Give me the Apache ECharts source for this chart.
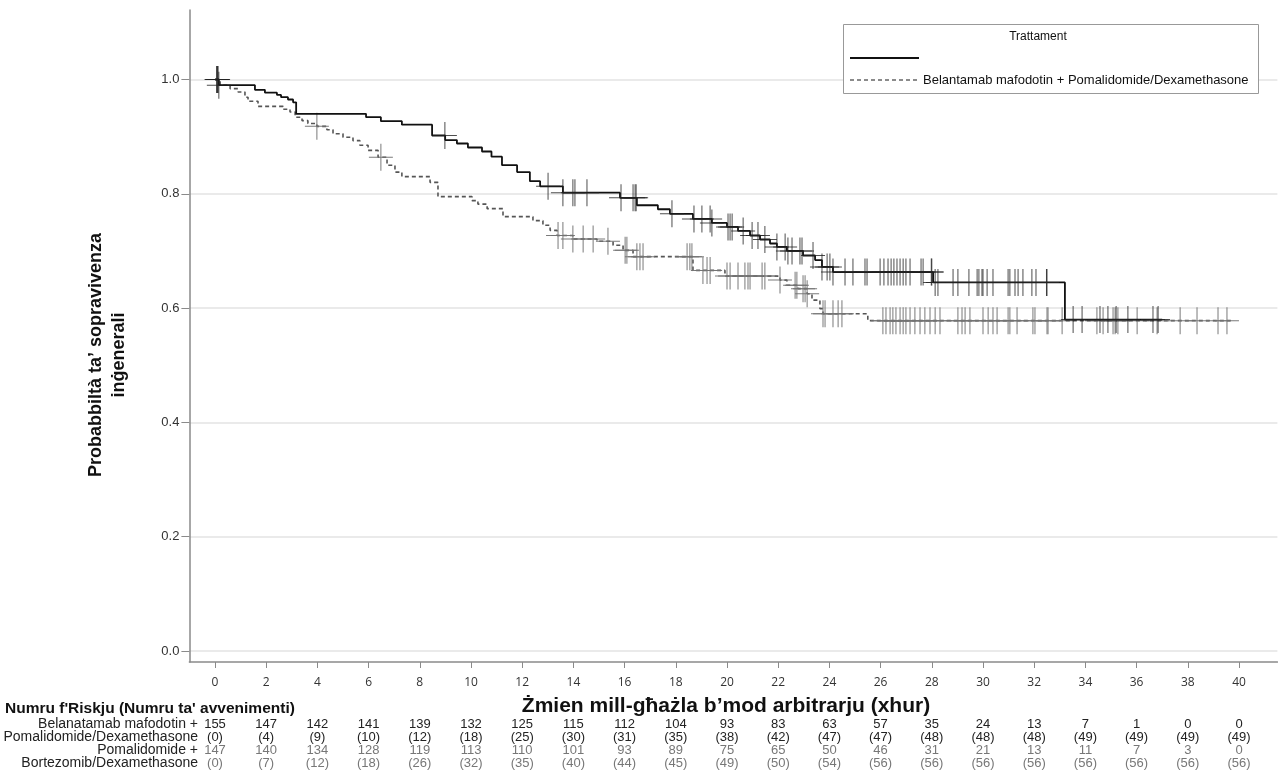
<!DOCTYPE html>
<html><head><meta charset="utf-8">
<script src="https://cdn.jsdelivr.net/npm/echarts@6/dist/echarts.min.js"></script>
<style>html,body{margin:0;padding:0;background:#fff}#c{width:1278px;height:781px}</style>
</head><body><div id="c"></div><script>
// ---- data ----
const xTicks = [0,2,4,6,8,10,12,14,16,18,20,22,24,26,28,30,32,34,36,38,40];
const yTicks = [0,0.2,0.4,0.6,0.8,1.0];

// Solid curve (step-change times and survival from that time)
const bpdTimes = [0,0.15,1.56,1.95,2.42,2.58,2.85,3.05,3.17,5.90,6.48,7.30,8.48,8.99,9.45,9.88,10.43,10.80,11.21,11.80,12.30,12.70,13.59,15.82,16.48,17.30,17.77,18.67,19.41,20.00,20.43,20.90,21.29,21.68,21.95,22.34,22.97,23.44,23.71,24.14,28.05,33.20];
const bpdSurv  = [1.0,0.990,0.982,0.977,0.973,0.969,0.965,0.960,0.940,0.934,0.927,0.921,0.902,0.894,0.888,0.881,0.874,0.865,0.850,0.838,0.822,0.813,0.802,0.793,0.780,0.773,0.765,0.756,0.749,0.742,0.735,0.727,0.720,0.713,0.707,0.700,0.692,0.684,0.672,0.663,0.645,0.580];
const bpdEnd = 37.0;

// Dashed curve
const pvdTimes = [0,0.20,0.59,0.90,1.17,1.29,1.68,2.66,2.93,3.13,3.40,3.63,3.98,4.37,4.61,5.00,5.39,5.66,5.98,6.37,6.72,7.03,7.30,8.40,8.71,10.04,10.27,10.63,11.25,12.42,12.81,13.09,13.36,13.98,14.92,15.55,15.94,16.33,18.67,19.92,22.07,22.34,22.77,23.13,23.32,23.63,23.75,25.50];
const pvdSurv  = [1.0,0.990,0.984,0.978,0.969,0.962,0.953,0.948,0.943,0.934,0.928,0.923,0.918,0.912,0.905,0.899,0.893,0.885,0.876,0.864,0.850,0.838,0.830,0.820,0.795,0.788,0.782,0.774,0.760,0.753,0.745,0.736,0.727,0.721,0.717,0.710,0.701,0.690,0.666,0.656,0.649,0.640,0.634,0.625,0.614,0.599,0.590,0.578];
const pvdEnd = 39.8;

// Censoring times
const bpdCensor = [0.06,0.09,0.12,0.15,8.98,13.01,13.59,13.98,14.06,14.53,15.86,16.33,16.41,16.45,17.85,18.71,19.02,19.34,19.41,20.04,20.12,20.2,20.63,20.98,21.21,21.48,21.95,22.27,22.38,22.54,22.85,22.93,23.36,23.71,23.91,24.02,24.14,24.61,24.92,25.39,25.47,25.98,26.13,26.29,26.41,26.52,26.64,26.76,26.88,26.99,27.15,27.58,27.66,27.98,28.0,28.13,28.24,28.83,29.02,29.45,29.77,29.84,29.96,30.0,30.16,30.39,30.98,31.05,31.25,31.37,31.56,31.91,32.07,32.48,32.5,33.52,33.87,34.57,34.88,35.2,35.66,36.64,36.84];
const pvdCensor = [0.1,3.98,6.48,13.4,13.59,13.98,14.38,14.77,15.35,16.02,16.09,16.48,16.6,16.72,18.44,18.55,18.63,19.06,19.22,19.34,20.0,20.12,20.43,20.7,20.82,20.9,21.37,21.48,22.07,22.66,22.73,22.97,23.05,23.13,23.75,23.83,24.14,24.34,24.49,26.09,26.21,26.37,26.48,26.6,26.76,26.88,26.99,27.15,27.34,27.54,27.73,27.93,28.13,28.32,29.02,29.18,29.3,29.49,30.0,30.2,30.39,30.55,30.98,31.05,31.33,31.95,32.03,32.5,32.54,33.09,34.45,34.69,35.08,35.16,35.27,36.02,36.8,37.7,38.36,39.18,39.53];

// Numbers at risk (events)
const riskTimes = xTicks;
const bpdAtRisk = [155,147,142,141,139,132,125,115,112,104,93,83,63,57,35,24,13,7,1,0,0];
const bpdEvents = [0,4,9,10,12,18,25,30,31,35,38,42,47,47,48,48,48,49,49,49,49];
const pvdAtRisk = [147,140,134,128,119,113,110,101,93,89,75,65,50,46,31,21,13,11,7,3,0];
const pvdEvents = [0,7,12,18,26,32,35,40,44,45,49,50,54,56,56,56,56,56,56,56,56];
const rowLabels = ['Belanatamab mafodotin +','Pomalidomide/Dexamethasone','Pomalidomide +','Bortezomib/Dexamethasone'];
const riskTitle = "Numru f'Riskju (Numru ta' avvenimenti)";
const xTitle = 'Żmien mill-għażla b’mod arbitrarju (xhur)';
const yTitle = 'Probabbiltà ta’ sopravivenza\ninġenerali';
const legendTitle = 'Trattament';
const legendLabels = ['', 'Belantamab mafodotin + Pomalidomide/Dexamethasone'];

// ---- helpers ----
function stepPath(times, surv, end){
  const pts = [[times[0], surv[0]]];
  for (let i = 1; i < times.length; i++){
    pts.push([times[i], surv[i-1]]);
    pts.push([times[i], surv[i]]);
  }
  pts.push([end, surv[surv.length-1]]);
  return pts;
}
function survAt(times, surv, t){
  let v = surv[0];
  for (let i = 0; i < times.length; i++){ if (times[i] <= t) v = surv[i]; }
  return v;
}
const crossPath = 'path://M11.5,0h1v27h-1z M0,13h24v1h-24z';

const chart = echarts.init(document.getElementById('c'), null, {renderer:'canvas'});
const axisGray = '#8a8a8a';
const option = {
  animation:false,
  backgroundColor:'#fff',
  grid:{left:189.4, top:10, width:1088, height:652},
  xAxis:{
    type:'value', min:-1, max:41.5,
    axisLine:{show:true, onZero:false, lineStyle:{color:axisGray, width:1.5}},
    axisTick:{show:true, customValues:xTicks, length:6, lineStyle:{color:axisGray}},
    axisLabel:{customValues:xTicks, margin:15, color:'#333', fontSize:12, fontFamily:'Open Sans, sans-serif'},
    splitLine:{show:false}
  },
  yAxis:{
    type:'value', min:-0.01925, max:1.1216,
    axisLine:{show:true, onZero:false, lineStyle:{color:axisGray, width:1.5}},
    axisTick:{show:true, customValues:yTicks, length:8, lineStyle:{color:axisGray}},
    axisLabel:{customValues:yTicks, margin:10, color:'#333', fontSize:13, fontFamily:'Liberation Sans, Arial, sans-serif', formatter:v=>v.toFixed(1)},
    splitLine:{show:true, lineStyle:{color:'#e3e3e3', width:1.5}}
  },
  series:[
    {type:'line', data:stepPath(pvdTimes,pvdSurv,pvdEnd), symbol:'none', z:3,
     lineStyle:{color:'#555', width:1.6, type:[4,3]}},
    {type:'scatter', data:pvdCensor.map(t=>[t, survAt(pvdTimes,pvdSurv,t)]), symbol:crossPath, symbolSize:[24,27], z:4,
     itemStyle:{color:'#737373', opacity:0.95}},
    {type:'line', data:stepPath(bpdTimes,bpdSurv,bpdEnd), symbol:'none', z:5,
     lineStyle:{color:'#111', width:1.8}},
    {type:'scatter', data:bpdCensor.map(t=>[t, survAt(bpdTimes,bpdSurv,t)]), symbol:crossPath, symbolSize:[24,27], z:6,
     itemStyle:{color:'#222'}}
  ]
};
chart.setOption(option);

// ---- texts & risk table ----
const g = [];
const numFont = 'Liberation Sans, Arial, sans-serif';
const rowY = [724, 737, 750, 763];
rowLabels.forEach((lab,i)=>{
  g.push({type:'text', x:198, y:rowY[i], style:{text:lab, align:'right', verticalAlign:'middle', fontSize:14, fontFamily:numFont, fill:'#222'}});
});
riskTimes.forEach((t,i)=>{
  const px = chart.convertToPixel({xAxisIndex:0}, t);
  const rows = [String(bpdAtRisk[i]), '('+bpdEvents[i]+')', String(pvdAtRisk[i]), '('+pvdEvents[i]+')'];
  const cols = ['#222','#222','#777','#777'];
  rows.forEach((txt,r)=>{
    g.push({type:'text', x:px, y:rowY[r], style:{text:txt, align:'center', verticalAlign:'middle', fontSize:13, fontFamily:numFont, fill:cols[r]}});
  });
});
g.push({type:'text', x:5, y:709, style:{text:riskTitle, align:'left', verticalAlign:'middle', fontSize:15.5, fontWeight:'bold', fontFamily:'Liberation Sans, Arial, sans-serif', fill:'#111'}});
g.push({type:'text', x:726, y:706, style:{text:xTitle, align:'center', verticalAlign:'middle', fontSize:21, fontWeight:'bold', fontFamily:'Liberation Sans, Arial, sans-serif', fill:'#111'}});
g.push({type:'text', x:108, y:355, rotation:Math.PI/2, style:{text:yTitle, align:'center', verticalAlign:'middle', fontSize:18, lineHeight:23, fontWeight:'bold', fontFamily:'Liberation Sans, Arial, sans-serif', fill:'#111'}});
// legend
g.push({type:'rect', shape:{x:843.5, y:24.5, width:415, height:69}, style:{fill:'#fff', stroke:'#999', lineWidth:1}, z:10});
g.push({type:'text', x:1038, y:37, z:11, style:{text:legendTitle, align:'center', verticalAlign:'middle', fontSize:12, fontFamily:'Liberation Sans, Arial, sans-serif', fill:'#111'}});
g.push({type:'line', shape:{x1:850, y1:58, x2:919, y2:58}, z:11, style:{stroke:'#111', lineWidth:2}});
g.push({type:'text', x:923, y:58, z:11, style:{text:legendLabels[0], align:'left', verticalAlign:'middle', fontSize:13, fontFamily:'Liberation Sans, Arial, sans-serif', fill:'#111'}});
g.push({type:'line', shape:{x1:850, y1:80, x2:920, y2:80}, z:11, style:{stroke:'#666', lineWidth:1.5, lineDash:[4,3]}});
g.push({type:'text', x:923, y:80, z:11, style:{text:legendLabels[1], align:'left', verticalAlign:'middle', fontSize:13, fontFamily:'Liberation Sans, Arial, sans-serif', fill:'#111'}});
chart.setOption({graphic:g});
</script></body></html>
